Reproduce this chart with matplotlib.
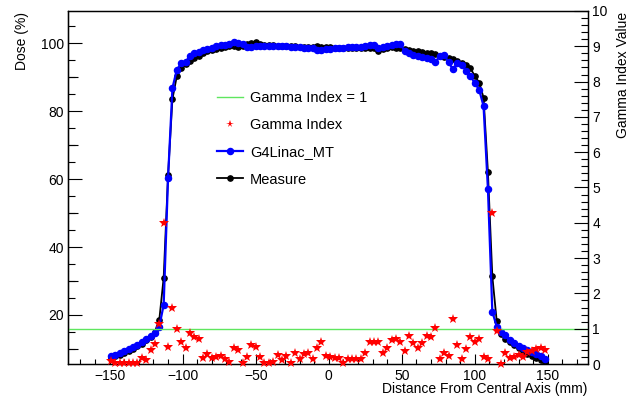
import numpy as np
import matplotlib
matplotlib.use("Agg")
import matplotlib.pyplot as plt
from matplotlib.ticker import MultipleLocator, FixedLocator, NullFormatter
from matplotlib.lines import Line2D

plt.rcParams['font.family'] = ['Liberation Sans', 'DejaVu Sans']

# measurement positions (mm), one every 3 mm
dist = np.arange(-149, 149, 3)

# dose profiles (%)
measure = [7.3, 7.8, 8.3, 8.9, 9.5, 10.1, 10.8, 11.6, 12.5, 13.6,
           15.1, 18.6, 31.0, 61.2, 83.6, 90.3, 92.6, 93.8, 94.8, 95.7,
           96.3, 97.0, 97.6, 98.1, 98.4, 98.6, 98.9, 99.1, 99.2, 99.0,
           99.3, 99.8, 100.2, 100.4, 99.7, 99.5, 99.4, 99.4, 99.3, 99.3,
           99.2, 99.2, 99.1, 99.0, 99.0, 98.9, 99.0, 99.2, 98.9, 98.8,
           98.8, 98.7, 98.7, 98.6, 98.5, 98.6, 98.7, 98.7, 98.6, 98.6,
           98.5, 97.6, 98.4, 98.6, 98.8, 98.7, 98.5, 98.3, 98.0, 97.8,
           97.6, 97.4, 97.2, 97.0, 96.8, 96.3, 96.0, 95.6, 95.4, 94.8,
           94.3, 93.7, 92.6, 90.4, 88.4, 84.0, 62.0, 31.4, 18.2, 14.3,
           13.0, 12.0, 11.1, 10.3, 9.4, 8.6, 7.9, 7.2, 6.7, 6.2]

g4linac = [7.8, 8.3, 8.8, 9.3, 9.9, 10.5, 11.2, 12.0, 12.9, 13.8,
           14.8, 16.6, 23.0, 60.4, 86.8, 92.2, 94.1, 94.6, 96.2, 97.0,
           97.5, 98.0, 98.4, 98.7, 99.1, 99.4, 99.6, 99.7, 100.3, 100.1,
           99.9, 98.9, 98.9, 99.1, 99.2, 99.3, 99.2, 99.3, 99.2, 99.1,
           99.2, 98.9, 98.8, 98.9, 98.7, 98.6, 98.6, 97.9, 98.1, 98.4,
           98.4, 98.5, 98.6, 98.7, 98.8, 98.8, 98.9, 99.0, 99.3, 99.6,
           99.4, 98.7, 98.8, 99.2, 99.6, 99.7, 99.7, 97.8, 97.0, 96.5,
           96.2, 96.0, 95.8, 95.5, 94.5, 96.2, 96.5, 94.5, 92.3, 94.2,
           93.7, 91.8, 90.3, 88.3, 86.3, 81.5, 57.0, 21.0, 16.6, 15.1,
           14.0, 12.7, 11.9, 11.0, 10.2, 9.7, 9.1, 8.5, 7.8, 7.0]

# gamma index at each position
gamma = [0.09, 0.02, 0.02, 0.02, 0.02, 0.02, 0.02, 0.16, 0.11, 0.40,
         0.57, 1.12, 4.00, 0.47, 1.58, 0.99, 0.63, 0.44, 0.87, 0.77,
         0.70, 0.16, 0.27, 0.16, 0.19, 0.23, 0.14, 0.06, 0.46, 0.41,
         0.02, 0.20, 0.53, 0.47, 0.20, 0.02, 0.02, 0.07, 0.25, 0.12,
         0.24, 0.02, 0.32, 0.13, 0.28, 0.30, 0.15, 0.45, 0.62, 0.24,
         0.21, 0.18, 0.16, 0.02, 0.14, 0.14, 0.14, 0.14, 0.32, 0.61,
         0.61, 0.61, 0.32, 0.44, 0.68, 0.70, 0.61, 0.38, 0.78, 0.59,
         0.46, 0.60, 0.78, 0.77, 1.01, 0.13, 0.30, 0.23, 1.27, 0.55,
         0.15, 0.43, 0.77, 0.62, 0.72, 0.20, 0.14, 4.27, 0.93, 0.01,
         0.30, 0.16, 0.21, 0.25, 0.21, 0.33, 0.37, 0.42, 0.46, 0.40]

gamma_limit = 1.0

fig = plt.figure(figsize=(6.37, 3.99), dpi=100)
ax = fig.add_axes([68 / 637, 35 / 399, 520 / 637, 353 / 399])

ax.plot(dist, measure, '-o', color='black', lw=1.3, ms=3.8, zorder=2)
ax.plot(dist, g4linac, '-o', color='blue', lw=1.6, ms=4.4, zorder=3)

ax.set_xlim(-178.5, 177.5)
ax.set_ylim(5.57, 109.5)

# x axis ticks (ROOT style, inside)
ax.xaxis.set_major_locator(MultipleLocator(50))
ax.xaxis.set_minor_locator(MultipleLocator(10))
ax.tick_params(axis='x', which='major', direction='in', length=7.5, width=0.8,
               labelsize=10, pad=3.5, top=False)
ax.tick_params(axis='x', which='minor', direction='in', length=3.8, width=0.8, top=False)

# left y axis ticks
ax.yaxis.set_major_locator(MultipleLocator(20))
ax.yaxis.set_minor_locator(MultipleLocator(5))
ax.tick_params(axis='y', which='major', direction='in', length=10, width=0.8,
               labelsize=10, pad=3, right=False)
ax.tick_params(axis='y', which='minor', direction='in', length=5, width=0.8, right=False)
mid = ax.secondary_yaxis('left')
mid.yaxis.set_major_locator(FixedLocator([10, 30, 50, 70, 90]))
mid.yaxis.set_major_formatter(NullFormatter())
mid.tick_params(axis='y', direction='in', length=7.5, width=0.8)

# gamma axis on the right
ax2 = ax.twinx()
ax2.set_ylim(0, 10)
ax2.axhline(gamma_limit, color='#5fe65f', lw=1.0, zorder=1)
ax2.plot(dist, gamma, linestyle='none', marker='*', color='red', ms=7.5,
         markeredgewidth=0, clip_on=False, zorder=4)
ax2.yaxis.set_major_locator(MultipleLocator(1))
ax2.yaxis.set_minor_locator(MultipleLocator(0.2))
ax2.tick_params(axis='y', which='major', direction='in', length=10, width=0.8,
                labelsize=10, pad=3)
ax2.tick_params(axis='y', which='minor', direction='in', length=5, width=0.8)

for a in (ax, ax2):
    for s in a.spines.values():
        s.set_linewidth(0.9)

# axis titles, ROOT places them at the end of the axes
fig.text(22 / 637, 1 - 12 / 399, 'Dose (%)', rotation=90, ha='center', va='top', fontsize=10)
fig.text(623 / 637, 1 - 12 / 399, 'Gamma Index Value', rotation=90, ha='center', va='top', fontsize=10)
fig.text(587 / 637, 1 - 389 / 399, 'Distance From Central Axis (mm)', ha='right', va='center',
         fontsize=10)

handles = [
    Line2D([], [], color='#5fe65f', lw=1.0),
    Line2D([], [], linestyle='none', marker='*', color='red', ms=5.5, markeredgewidth=0),
    Line2D([], [], color='blue', lw=1.6, marker='o', ms=4.4),
    Line2D([], [], color='black', lw=1.3, marker='o', ms=3.8),
]
labels = ['Gamma Index = 1', 'Gamma Index', 'G4Linac_MT', 'Measure']
ax2.legend(handles, labels, loc='upper left', bbox_to_anchor=(0.2865, 0.773),
           frameon=False, fontsize=10.5, numpoints=1, handlelength=1.78,
           handletextpad=0.48, labelspacing=0.9, borderpad=0, borderaxespad=0)

fig.savefig('out.png', dpi=100)
